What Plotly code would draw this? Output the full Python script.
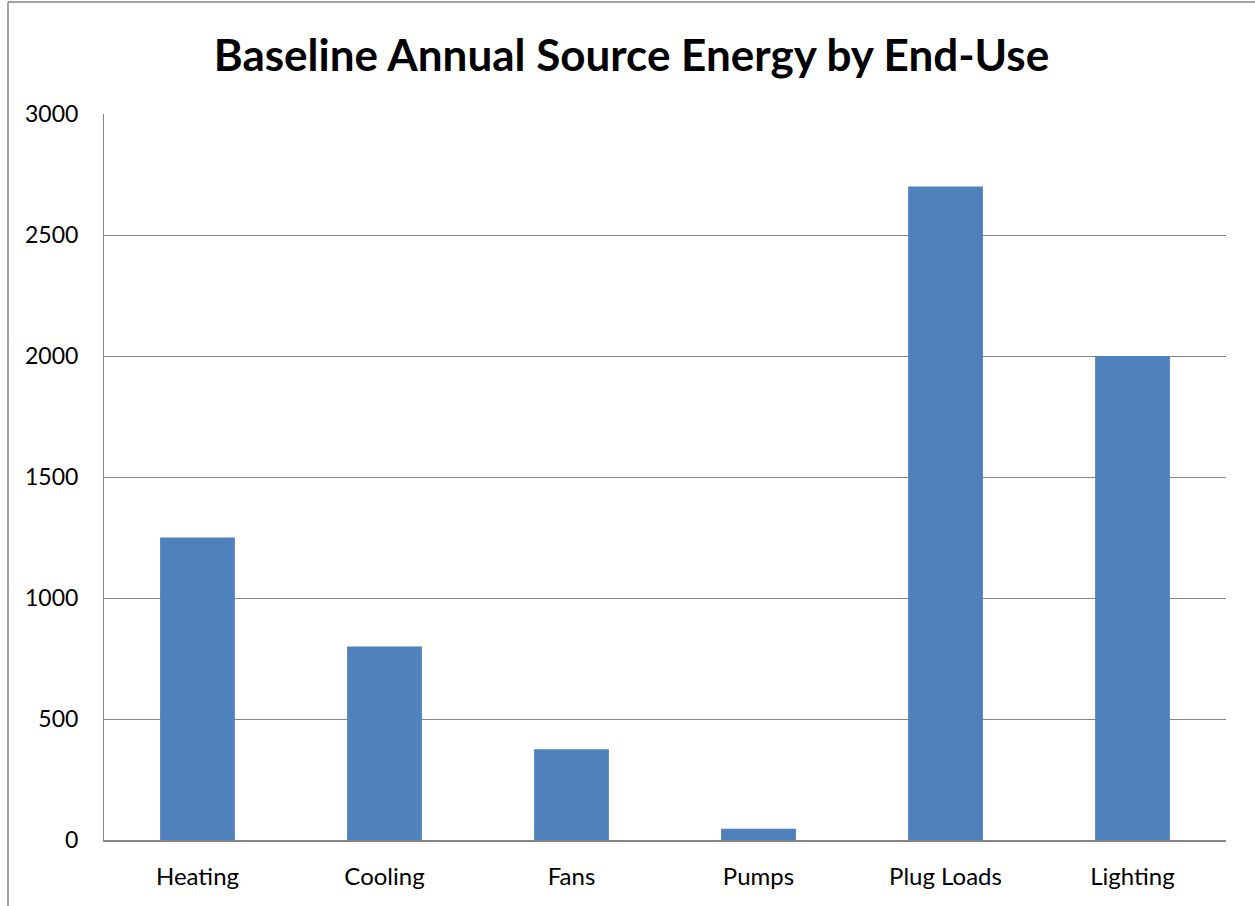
import plotly.graph_objects as go

categories = ["Heating", "Cooling", "Fans", "Pumps", "Plug Loads", "Lighting"]
values = [1250, 800, 375, 47, 2700, 2000]
y_ticks = [0, 500, 1000, 1500, 2000, 2500, 3000]

W, H = 1255, 906
L, R, T, B = 104, 29, 114, 66
pw, ph = W - L - R, H - T - B

def px_x(px):
    return (px - L) / pw

def px_y(py):
    return (H - B - py) / ph

fig = go.Figure(go.Bar(x=categories, y=values, marker=dict(color="#4F81BD", line=dict(width=0)), width=0.4))

fig.update_layout(
    width=W, height=H,
    margin=dict(l=L, r=R, t=T, b=B, autoexpand=False),
    paper_bgcolor="white", plot_bgcolor="white",
    font=dict(family="Lato, Noto Sans, sans-serif", color="black", size=24),
    title=dict(text="<b>Baseline Annual Source Energy by End-Use</b>", x=631.5 / W, xanchor="center",
               xref="container", y=1 - 56 / H, yref="container", yanchor="middle", font=dict(size=44)),
    showlegend=False,
    bargap=0.6,
)
fig.update_yaxes(range=[0, 3000], tickvals=y_ticks, showgrid=True, gridcolor="#868686", gridwidth=1,
                 showline=True, linecolor="#868686", linewidth=1, ticks="", ticklabelstandoff=20,
                 zeroline=False, tickfont=dict(size=23))
fig.update_xaxes(showline=True, linecolor="#868686", linewidth=2, ticks="", tickfont=dict(size=24),
                 ticklabelstandoff=14)

fig.add_shape(type="line", xref="paper", yref="paper", x0=px_x(8), x1=px_x(8), y0=px_y(2), y1=px_y(906),
              line=dict(color="#868686", width=1.5))
fig.add_shape(type="line", xref="paper", yref="paper", x0=px_x(8), x1=px_x(1255), y0=px_y(2), y1=px_y(2),
              line=dict(color="#868686", width=1.5))

fig.write_html("out.html", config={"displayModeBar": False},
               post_script="document.body.style.margin='0';")
